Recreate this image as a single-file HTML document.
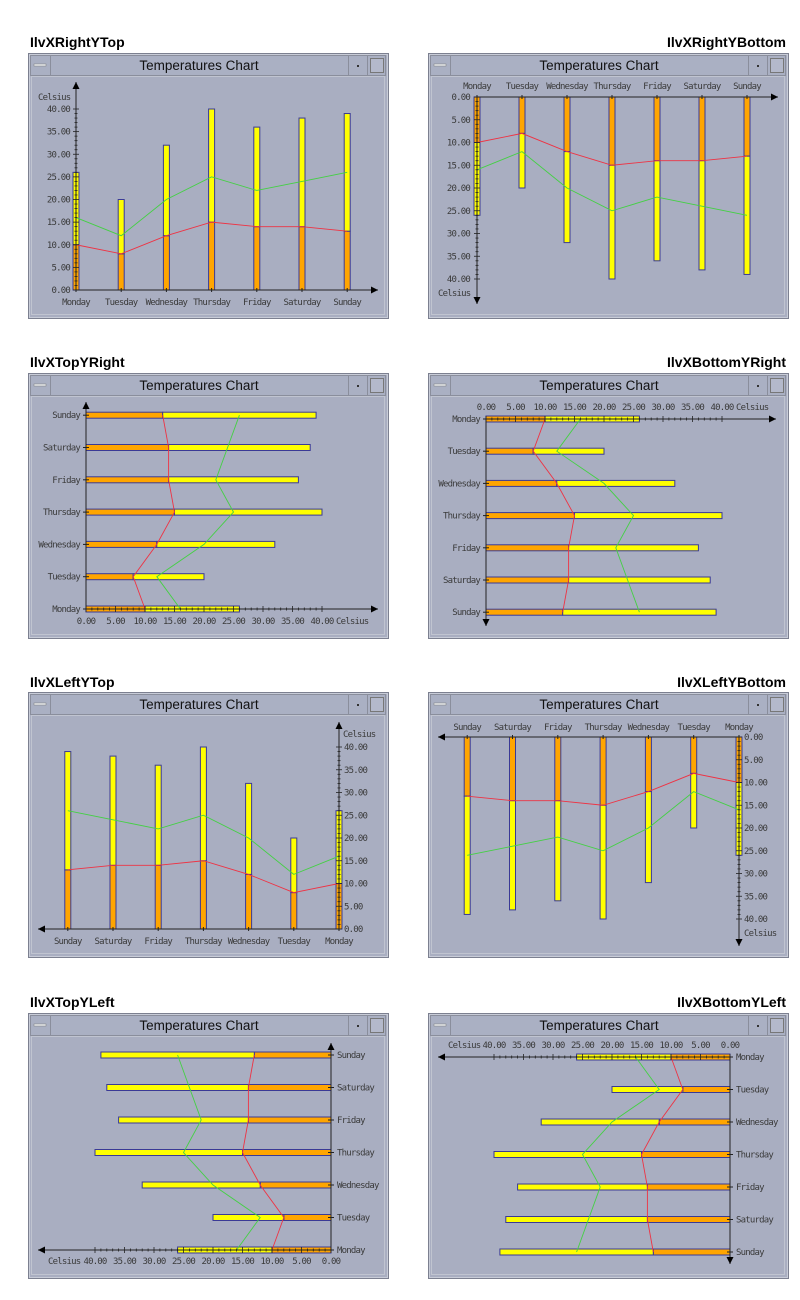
<!DOCTYPE html>
<html><head><meta charset="utf-8"><style>
html,body{margin:0;padding:0;background:#fff;width:800px;height:1300px;overflow:hidden}
svg{display:block}
.h{font:bold 14px "Liberation Sans",sans-serif;fill:#000}
.t{font:13.5px "Liberation Sans",sans-serif;fill:#111}
.l{font:9px "DejaVu Sans Mono","Liberation Mono",monospace;letter-spacing:-0.8px;fill:#3a3a3a}
</style></head><body>
<svg id="s" width="800" height="1300" xmlns="http://www.w3.org/2000/svg">
<text class="h" x="30" y="47">IlvXRightYTop</text>
<text class="h" x="786" y="47" text-anchor="end">IlvXRightYBottom</text>
<text class="h" x="30" y="367">IlvXTopYRight</text>
<text class="h" x="786" y="367" text-anchor="end">IlvXBottomYRight</text>
<text class="h" x="30" y="687">IlvXLeftYTop</text>
<text class="h" x="786" y="687" text-anchor="end">IlvXLeftYBottom</text>
<text class="h" x="30" y="1007">IlvXTopYLeft</text>
<text class="h" x="786" y="1007" text-anchor="end">IlvXBottomYLeft</text>
</svg>
<script>
var S=document.getElementById('s'),NS='http://www.w3.org/2000/svg';
function E(t,a,txt){var e=document.createElementNS(NS,t);for(var k in a)e.setAttribute(k,a[k]);if(txt!=null)e.textContent=txt;S.appendChild(e);return e;}
var days=['Monday','Tuesday','Wednesday','Thursday','Friday','Saturday','Sunday'];
var mn=[10,8,12,15,14,14,13],mx=[26,20,32,40,36,38,39],av=[16,12,20,25,22,24,26];
function win(x,y){
 E('rect',{x:x+.5,y:y+.5,width:360,height:265,fill:'#a9aec1',stroke:'#7c8090'});
 E('rect',{x:x+1.5,y:y+1.5,width:358,height:263,fill:'none',stroke:'#c8ccd8'});
 E('rect',{x:x+2.5,y:y+2.5,width:355,height:20,fill:'#aab0c3',stroke:'#8a8e9c'});
 E('line',{x1:x+22.5,y1:y+3,x2:x+22.5,y2:y+23,stroke:'#8a8e9c'});
 E('line',{x1:x+320.5,y1:y+3,x2:x+320.5,y2:y+23,stroke:'#8a8e9c'});
 E('line',{x1:x+339.5,y1:y+3,x2:x+339.5,y2:y+23,stroke:'#8a8e9c'});
 E('rect',{x:x+6,y:y+11,width:12,height:2,fill:'#eef0f4',stroke:'#777',"stroke-width":.5});
 E('rect',{x:x+329,y:y+12,width:2,height:2,fill:'#333'});
 E('rect',{x:x+342.5,y:y+5.5,width:13,height:14,fill:'#b4b9cb',stroke:'#777'});
 E('text',{class:'t',x:x+171,y:y+17,'text-anchor':'middle'},'Temperatures Chart');
 E('rect',{x:x+3.5,y:y+23.5,width:353,height:238,fill:'none',stroke:'#c0c4d0'});
}
function arrow(x,y,dx,dy){var px=-dy,py=dx;
 E('polygon',{points:[x,y,x-dx*7+px*3.5,y-dy*7+py*3.5,x-dx*7-px*3.5,y-dy*7-py*3.5].join(','),fill:'#000'});}
function P(o){
 var pt=function(i,v){var c=o.c0+o.cs*i,w=o.v0+o.vs*v;return o.vert?[c,w]:[w,c];};
 for(var i=0;i<7;i++){
  [[0,mn[i],'#ffa500'],[mn[i],mx[i],'#ffff00']].forEach(function(s){
   var a=pt(i,s[0]),b=pt(i,s[1]);
   if(o.vert)E('rect',{x:a[0]-3,y:Math.min(a[1],b[1]),width:6,height:Math.abs(b[1]-a[1]),fill:s[2],stroke:'#3a3a96','stroke-width':1});
   else E('rect',{y:a[1]-3,x:Math.min(a[0],b[0]),height:6,width:Math.abs(b[0]-a[0]),fill:s[2],stroke:'#3a3a96','stroke-width':1});
  });
 }
 [[av,'#44d044'],[mn,'#ee3344']].forEach(function(s){
  var p=[];for(var i=0;i<7;i++)p.push(pt(i,s[0][i]).join(','));
  E('polyline',{points:p.join(' '),fill:'none',stroke:s[1],'stroke-width':0.9});});
 var a=pt(0,0),cd=Math.sign(o.cEnd-o.c0),vd=Math.sign(o.vEnd-o.v0);
 if(o.vert){E('line',{x1:a[0],y1:a[1],x2:o.cEnd,y2:a[1],stroke:'#222'});arrow(o.cEnd,a[1],cd,0);
  E('line',{x1:a[0],y1:a[1],x2:a[0],y2:o.vEnd,stroke:'#222'});arrow(a[0],o.vEnd,0,vd);}
 else{E('line',{x1:a[0],y1:a[1],x2:a[0],y2:o.cEnd,stroke:'#222'});arrow(a[0],o.cEnd,0,cd);
  E('line',{x1:a[0],y1:a[1],x2:o.vEnd,y2:a[1],stroke:'#222'});arrow(o.vEnd,a[1],vd,0);}
 for(var i=0;i<7;i++){var p=pt(i,0);
  if(o.vert){E('line',{x1:p[0],y1:p[1]-2,x2:p[0],y2:p[1]+2,stroke:'#222'});
   E('text',{class:'l',x:p[0],y:o.cl,'text-anchor':'middle'},days[i]);}
  else{E('line',{x1:p[0]-3,y1:p[1],x2:p[0]+3,y2:p[1],stroke:'#222'});
   E('text',{class:'l',x:o.cl,y:p[1]+3,'text-anchor':o.ca},days[i]);}}
 for(var v=0;v<=40;v++){var p=pt(0,v),L=v%5?1.5:3;
  if(o.vert)E('line',{x1:p[0]-L,y1:p[1],x2:p[0]+L,y2:p[1],stroke:'#222','stroke-width':.8});
  else E('line',{x1:p[0],y1:p[1]-L,x2:p[0],y2:p[1]+L,stroke:'#222','stroke-width':.8});
  if(v%5==0){
   if(o.vert)E('text',{class:'l',x:o.vl,y:p[1]+3,'text-anchor':o.va},v.toFixed(2));
   else E('text',{class:'l',x:p[0],y:o.vl,'text-anchor':'middle'},v.toFixed(2));}}
 E('text',{class:'l',x:o.cx,y:o.cy},'Celsius');
}
win(28,53);win(428,53);win(28,373);win(428,373);win(28,692);win(428,692);win(28,1013);win(428,1013);
P({vert:1,c0:76,cs:45.2,v0:290,vs:-4.525,cEnd:378,vEnd:82,cl:305,vl:70,va:'end',cx:38,cy:100});
P({vert:1,c0:477,cs:45,v0:97,vs:4.55,cEnd:778,vEnd:304,cl:89,vl:470,va:'end',cx:438,cy:296});
P({vert:0,c0:609,cs:-32.3,v0:86,vs:5.9,cEnd:402,vEnd:378,cl:80,ca:'end',vl:624,cx:336,cy:624});
P({vert:0,c0:419,cs:32.2,v0:486,vs:5.9,cEnd:626,vEnd:776,cl:480,ca:'end',vl:410,cx:736,cy:410});
P({vert:1,c0:339,cs:-45.2,v0:929,vs:-4.55,cEnd:38,vEnd:722,cl:944,vl:344,va:'start',cx:343,cy:737});
P({vert:1,c0:739,cs:-45.3,v0:737,vs:4.55,cEnd:438,vEnd:946,cl:730,vl:744,va:'start',cx:744,cy:936});
P({vert:0,c0:1250,cs:-32.5,v0:331,vs:-5.9,cEnd:1043,vEnd:38,cl:337,ca:'start',vl:1264,cx:48,cy:1264});
P({vert:0,c0:1057,cs:32.5,v0:730,vs:-5.9,cEnd:1264,vEnd:438,cl:736,ca:'start',vl:1048,cx:448,cy:1048});
</script>
</body></html>
